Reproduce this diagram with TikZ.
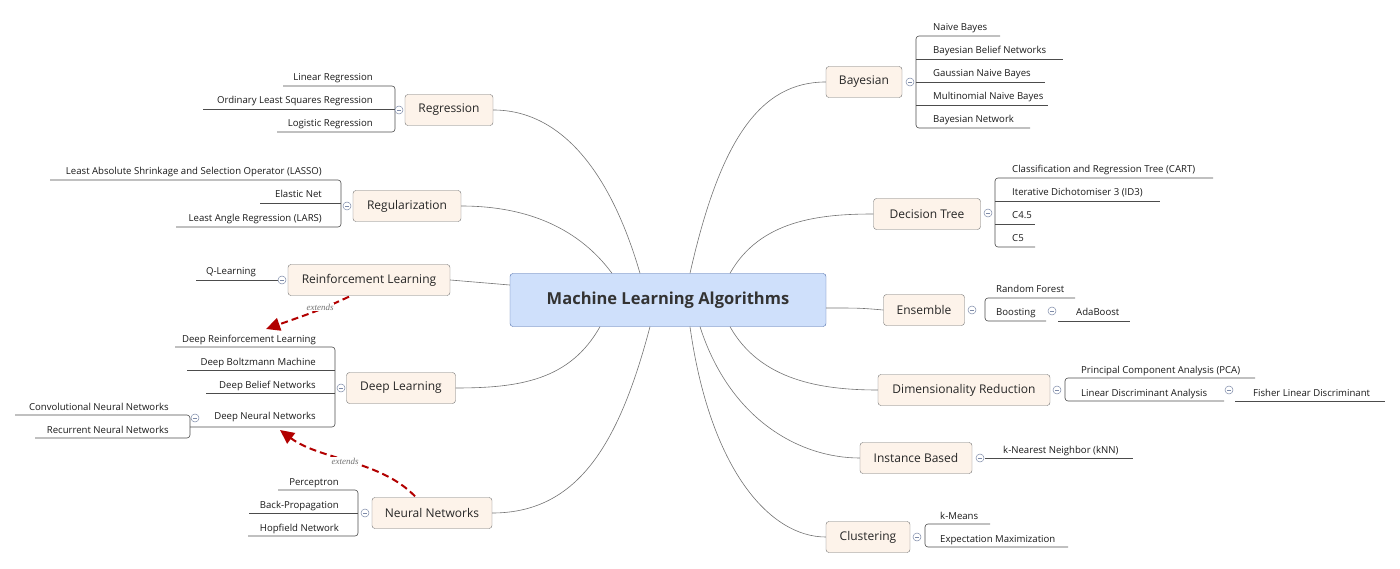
\documentclass[tikz,border=0pt]{standalone}
\usepackage{fontspec}
\setmainfont{Open Sans}
\newfontfamily\serifit{Liberation Serif}
\usetikzlibrary{arrows.meta}
\definecolor{cfill}{RGB}{207,224,251}
\definecolor{cbord}{RGB}{80,110,170}
\definecolor{bfill}{RGB}{253,243,234}
\definecolor{mc}{RGB}{125,138,168}
\begin{document}
\begin{tikzpicture}[x=1pt,y=-1pt,
  br/.style={draw=black!55,fill=bfill,rounded corners=3pt,minimum height=31pt,inner xsep=6pt,font=\fontsize{12}{14}\selectfont,text=black!85},
  ln/.style={draw=black!55,line width=0.6pt},
  lf/.style={draw=black!70,line width=0.6pt,rounded corners=3pt},
  tx/.style={font=\fontsize{9.6}{11}\selectfont,text=black!90,inner sep=0pt},
  ext/.style={draw=red!70!black,line width=2pt,dash pattern=on 7pt off 4pt,-{Triangle[length=14pt,width=13pt]}},
  exl/.style={font=\serifit\itshape\fontsize{9}{10}\selectfont,text=black!55,fill=white,inner sep=1pt}]
\useasboundingbox (0,0) rectangle (1400,569);
\newcommand\mcirc[2]{\draw[draw=mc,fill=white,line width=0.5pt] (#1,#2) circle (4pt); \draw[mc,line width=0.6pt] (#1-2,#2) -- (#1+2,#2);}
\newcommand\tL[3]{\node[tx,anchor=base east] at (#1,#2-5) {#3};}
\newcommand\tR[3]{\node[tx,anchor=base west] at (#1,#2-5) {#3};}

% center
\node[draw=cbord,fill=cfill,rounded corners=3pt,minimum width=316pt,minimum height=53pt,font=\bfseries\fontsize{16.5}{19}\selectfont,text=black!80] (c) at (668,300) {Machine Learning Algorithms};

% branches
\node[br,minimum width=88pt] (reg) at (449,110) {Regression};
\node[br,minimum width=108pt] (regu) at (407,206) {Regularization};
\node[br,minimum width=162pt] (rl) at (369,280) {Reinforcement Learning};
\node[br,minimum width=109pt] (dl) at (401,388) {Deep Learning};
\node[br,minimum width=120pt] (nn) at (432,513) {Neural Networks};
\node[br,minimum width=76pt] (bay) at (864,82) {Bayesian};
\node[br,minimum width=107pt] (dt) at (927,214) {Decision Tree};
\node[br,minimum width=81pt] (ens) at (924,310) {Ensemble};
\node[br,minimum width=172pt] (dr) at (964,390) {Dimensionality Reduction};
\node[br,minimum width=112pt] (ib) at (916,458) {Instance Based};
\node[br,minimum width=84pt] (cl) at (868,537) {Clustering};

% connectors
\begin{scope}[ln]
\draw (c.north) ++(-28,0) coordinate (a1) (a1) .. controls (610,170) and (560,110) .. (reg.east);
\draw (c.north) ++(-56,0) coordinate (a2) (a2) .. controls (580,230) and (530,206) .. (regu.east);
\draw (c.west) ++(0,-15) coordinate (a3) (a3) .. controls (480,282) .. (rl.east);
\draw (c.south) ++(-68,0) coordinate (a4) (a4) .. controls (570,380) and (520,388) .. (dl.east);
\draw (c.south) ++(-18,0) coordinate (a5) (a5) .. controls (620,440) and (580,513) .. (nn.east);
\draw (c.north) ++(22,0) coordinate (b1) (b1) .. controls (720,140) and (760,82) .. (bay.west);
\draw (c.north) ++(62,0) coordinate (b2) (b2) .. controls (760,220) and (820,214) .. (dt.west);
\draw (c.east) ++(0,8) coordinate (b3) (b3) .. controls (860,308) .. (ens.west);
\draw (c.south) ++(62,0) coordinate (b4) (b4) .. controls (760,380) and (820,390) .. (dr.west);
\draw (c.south) ++(32,0) coordinate (b5) (b5) .. controls (730,420) and (800,458) .. (ib.west);
\draw (c.south) ++(22,0) coordinate (b6) (b6) .. controls (710,470) and (770,537) .. (cl.west);
\end{scope}

% Regression leaves
\draw[lf] (283,86) -- (395,86) -- (395,132) -- (277,132); \draw[lf] (203,109) -- (395,109);
\tL{373}{86}{Linear Regression}\tL{373}{109}{Ordinary Least Squares Regression}\tL{373}{132}{Logistic Regression}
\mcirc{399}{110}
% Regularization
\draw[lf] (50,180) -- (341,180) -- (341,227) -- (176,227); \draw[lf] (260,203) -- (341,203);
\tL{322}{180}{Least Absolute Shrinkage and Selection Operator (LASSO)}\tL{322}{203}{Elastic Net}\tL{322}{227}{Least Angle Regression (LARS)}
\mcirc{347}{206}
% RL
\draw[lf] (196,280) -- (278,280); \tL{256}{280}{Q-Learning} \mcirc{282}{280}
% Deep learning
\draw[lf] (175,347) -- (335,347) -- (335,427) -- (190,427); \draw[lf] (187,370) -- (335,370); \draw[lf] (206,393) -- (335,393);
\tL{316}{347}{Deep Reinforcement Learning}\tL{316}{370}{Deep Boltzmann Machine}\tL{316}{393}{Deep Belief Networks}\tL{316}{424}{Deep Neural Networks}
\mcirc{341}{388}
\draw[lf] (15,415) -- (190,415) -- (190,438) -- (35,438);
\tL{169}{415}{Convolutional Neural Networks}\tL{169}{438}{Recurrent Neural Networks}
\mcirc{195}{418}
% NN
\draw[lf] (278,490) -- (358,490) -- (358,536) -- (248,536); \draw[lf] (249,513) -- (358,513);
\tL{339}{490}{Perceptron}\tL{339}{513}{Back-Propagation}\tL{339}{536}{Hopfield Network}
\mcirc{365}{513}

% Bayesian
\draw[lf] (1000,36) -- (916,36) -- (916,128) -- (1030,128); \draw[lf] (916,59) -- (1063,59); \draw[lf] (916,82) -- (1045,82); \draw[lf] (916,105) -- (1048,105);
\tR{933}{36}{Naive Bayes}\tR{933}{59}{Bayesian Belief Networks}\tR{933}{82}{Gaussian Naive Bayes}\tR{933}{105}{Multinomial Naive Bayes}\tR{933}{128}{Bayesian Network}
\mcirc{910}{82}
% Decision tree
\draw[lf] (1213,178) -- (995,178) -- (995,247) -- (1035,247); \draw[lf] (995,201) -- (1160,201); \draw[lf] (995,224) -- (1035,224);
\tR{1012}{178}{Classification and Regression Tree (CART)}\tR{1012}{201}{Iterative Dichotomiser 3 (ID3)}\tR{1012}{224}{C4.5}\tR{1012}{247}{C5}
\mcirc{988}{213}
% Ensemble
\draw[lf] (1075,298) -- (985,298) -- (985,321) -- (1046,321); \draw[lf] (1058,321) -- (1130,321);
\tR{996}{298}{Random Forest}\tR{996}{321}{Boosting}\tR{1076}{321}{AdaBoost}
\mcirc{972}{310}\mcirc{1052}{311}
% DR
\draw[lf] (1255,378) -- (1065,378) -- (1065,401) -- (1224,401); \draw[lf] (1235,401) -- (1385,401);
\tR{1081}{378}{Principal Component Analysis (PCA)}\tR{1081}{401}{Linear Discriminant Analysis}\tR{1253}{401}{Fisher Linear Discriminant}
\mcirc{1057}{390}\mcirc{1229}{390}
% IB
\draw[lf] (985,458) -- (1133,458); \tR{1003}{458}{k-Nearest Neighbor (kNN)} \mcirc{980}{458}
% Clustering
\draw[lf] (990,524) -- (925,524) -- (925,547) -- (1068,547);
\tR{940}{524}{k-Means}\tR{940}{547}{Expectation Maximization}
\mcirc{917}{537}

% extends
\coordinate (e1) at (266,329); \coordinate (e2) at (280,430);
\draw[ext] (rl.south) ++(-20,1) coordinate (s1) (s1) .. controls (320,310) .. (e1);
\node[exl] at (320,307) {extends};
\draw[ext] (nn.north) ++(-17,-1) coordinate (s2) (s2) .. controls (380,460) and (320,460) .. (e2);
\node[exl] at (345,461) {extends};
\end{tikzpicture}
\end{document}
